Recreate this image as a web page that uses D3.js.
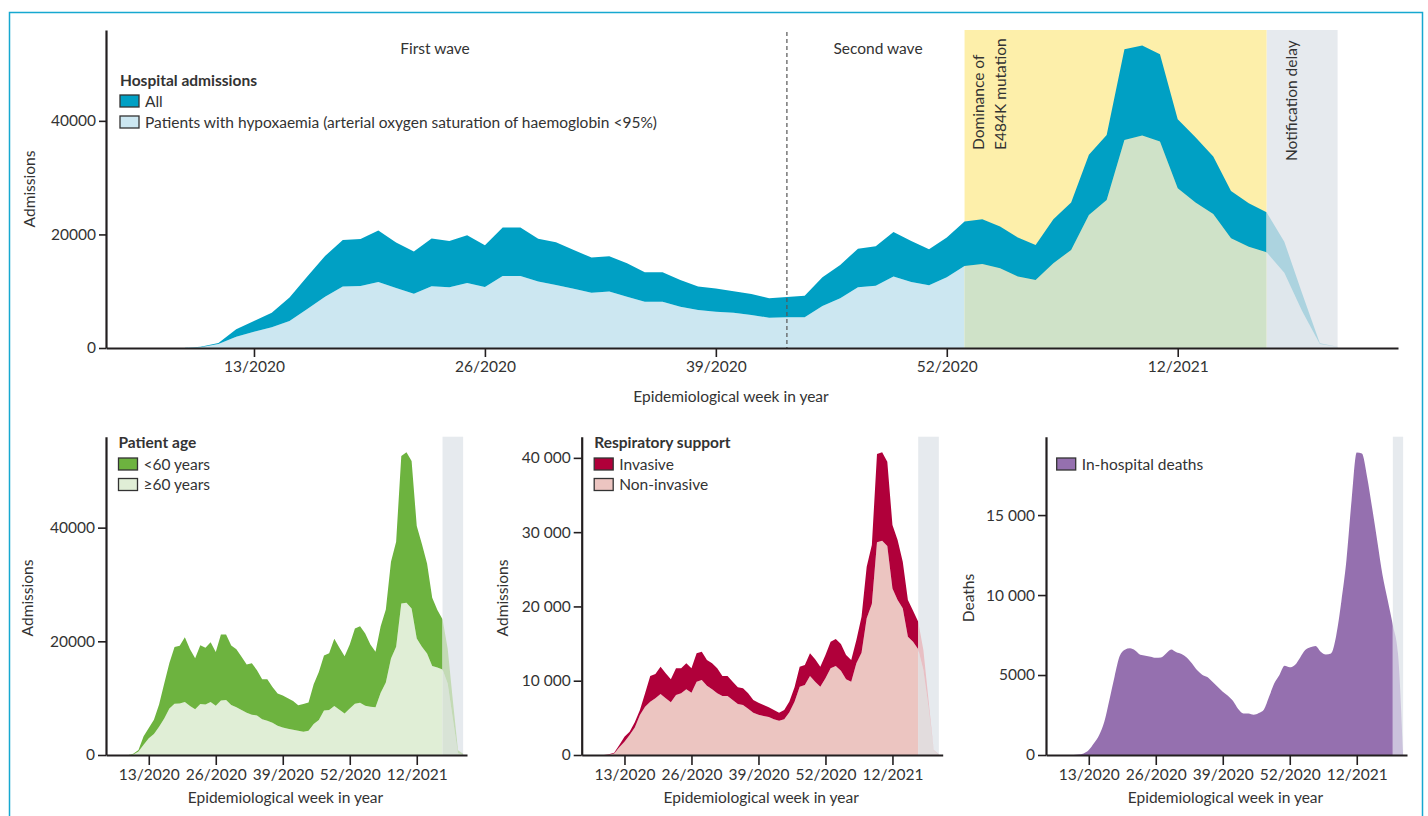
<!DOCTYPE html>
<html><head><meta charset="utf-8">
<script src="https://cdn.jsdelivr.net/npm/d3@7"></script>
<style>
body{margin:0;background:#fff}
text{font-family:Lato,"Noto Sans",sans-serif;fill:#333}
</style>
</head><body>
<svg id="c" width="1428" height="816"></svg>
<script>
// Continuous epidemiological week index (2020 has 53 weeks: index 54 = week 1/2021)
const weeks = d3.range(9, 75);
const xTickWeeks = [13, 26, 39, 52, 65];
const xTickLabels = ["13/2020", "26/2020", "39/2020", "52/2020", "12/2021"];

const admissionsAll = [0,200,900,3300,4750,6200,8900,12600,16200,19000,19200,20700,18600,17000,19300,18850,19850,18100,21200,21200,19250,18620,17270,15920,16150,14920,13330,13330,11980,10810,10460,9980,9510,8750,8990,9220,12450,14620,17500,17910,20440,18850,17390,19440,22260,22670,21380,19440,18150,22670,25610,34010,37530,52620,53270,51740,40290,37120,33710,27660,25490,23900,18730,9630,820,230];
const admissionsHypoxaemia = [0,120,700,2000,2880,3640,4760,6870,9045,10810,10920,11630,10570,9570,10870,10690,11450,10750,12690,12690,11690,11100,10450,9750,9930,9045,8165,8165,7285,6700,6400,6225,5815,5345,5405,5405,7400,8750,10690,10980,12570,11630,11040,12450,14450,14800,14040,12570,11980,14920,17270,23430,26080,36650,37410,36360,28130,25610,23610,19320,17850,16860,13270,6500,700,200];

const ageOver60 = [0,100,600,1800,2930,3690,4980,6440,8200,9020,9080,9315,8610,8030,8960,8900,9315,8670,9610,9670,8790,8380,7910,7440,7090,6970,6270,6035,5680,5155,4860,4630,4450,4275,4100,4275,5450,6150,7850,7910,8610,7970,7320,8200,9020,9200,8670,8500,8380,10960,12770,16990,19040,26650,26770,25780,20500,19040,17870,15640,15410,15060,12600,6440,290,0];
const ageUnder60 = [0,100,300,1500,1820,2510,3920,6160,8000,9980,10120,11385,9990,8970,10340,9950,10535,9430,11590,11530,10460,10240,9360,8480,9060,7950,7060,7295,6300,5655,5600,5350,5060,4475,4890,4945,7000,8470,9650,10000,11830,10880,10070,11240,13240,13470,12710,10940,9770,11710,12840,17020,18490,25970,26500,25960,19790,18080,15840,12020,10080,8840,6130,3190,530,230];

const supportNonInvasive = [0,50,200,1030,1800,2690,3700,5380,6500,7180,7630,8210,7630,7090,8075,8300,8840,8390,9870,10095,9330,8840,8300,7940,7940,7400,6865,6730,6235,5700,5430,5250,5115,4800,4620,4800,5740,7180,9200,9420,10630,9870,9200,10320,11665,11980,11350,10185,9870,12340,13775,18395,20325,28625,28850,28130,22430,20860,19740,15925,15250,14220,11440,6500,600,50];
const supportInvasive = [0,50,100,320,670,450,700,680,1800,3450,3270,3680,3360,3095,3590,3365,3500,3275,3815,3815,3460,3500,3365,2690,2690,2470,2245,2240,2065,1700,1615,1480,1300,1260,1080,1260,1460,1950,2690,2695,3055,3010,2690,3140,3585,3630,3590,3275,2920,3140,4845,6955,7945,11885,11890,11350,8530,8080,6280,4935,4180,3725,2690,900,70,50];

const deaths = [0,0,30,100,310,730,1230,2060,3440,4900,6190,6580,6670,6540,6270,6210,6150,6080,6100,6350,6600,6420,6310,6100,5730,5310,5020,4875,4580,4270,3960,3710,3375,2875,2600,2600,2520,2625,2850,3650,4480,5000,5580,5480,5625,6085,6560,6730,6810,6460,6290,6350,7440,9580,12190,15940,18920,18850,17400,15420,13330,11250,9690,8125,6350,0];

const waveSplitWeek = 43, e484kStartWeek = 53, delayStartWeek = 70, delayEndWeek = 74, deathsDelayStartWeek = 72;

const FS = 15.5;
const svg = d3.select("#c");
const AX = "#231f20", GREY = "#e6eaee";
let clipN = 0;
function clip(x0, x1, y0, y1) {
  const id = "clip" + (clipN++);
  svg.append("clipPath").attr("id", id).append("rect")
    .attr("x", x0).attr("y", y0).attr("width", x1 - x0).attr("height", y1 - y0);
  return "url(#" + id + ")";
}
function band(x, y, lo, hi, curve) {
  return d3.area().curve(curve || d3.curveLinear)
    .x((d, i) => x(weeks[i])).y0((d, i) => y(lo ? lo[i] : 0)).y1((d, i) => y(hi[i]))(weeks);
}
function spaceFmt(d) { return d >= 10000 ? d3.format(",")(d).replace(",", " ") : String(d); }

function axes(x, y, yTicks, fmt, xTickLen, yTickLen) {
  const gx = svg.append("g").attr("transform", `translate(0,${y.range()[0]})`)
    .call(d3.axisBottom(x).tickValues(xTickWeeks).tickFormat((d, i) => xTickLabels[i])
      .tickSize(xTickLen).tickSizeOuter(0).tickPadding(4));
  const gy = svg.append("g").attr("transform", `translate(${x.range()[0]},0)`)
    .call(d3.axisLeft(y).tickValues(yTicks).tickFormat(fmt).tickSize(yTickLen).tickSizeOuter(0).tickPadding(3));
  [gx, gy].forEach(g => {
    g.select(".domain").attr("stroke", AX).attr("stroke-width", 2.2);
    g.selectAll(".tick line").attr("stroke", AX).attr("stroke-width", 1.6);
    g.selectAll(".tick text").style("font-family", "Lato, sans-serif").style("font-size", FS + "px").attr("fill", "#333");
  });
}
function label(txt, x, y, opts) {
  opts = opts || {};
  const t = svg.append("text").attr("x", x).attr("y", y).text(txt)
    .style("font-size", (opts.size || FS) + "px")
    .attr("text-anchor", opts.anchor || "start");
  if (opts.bold) t.style("font-weight", "bold");
  if (opts.rotate) t.attr("x", 0).attr("y", 0).attr("transform", `translate(${x},${y}) rotate(-90)`);
  return t;
}
function legendBox(x, y, fill) {
  svg.append("rect").attr("x", x).attr("y", y).attr("width", 19).attr("height", 12)
    .attr("fill", fill).attr("stroke", "#333").attr("stroke-width", 1.3);
}

// frame
svg.append("path").attr("d", "M9.5,830 V12.5 H1422.5 V830").attr("fill", "none").attr("stroke", "#16a8d0").attr("stroke-width", 1.5);

// ===== Top chart =====
{
  const x = d3.scaleLinear([4.67, 77.4], [106, 1398]);
  const y = d3.scaleLinear([0, 56000], [348, 30]);
  const top = 30, bot = 348;
  svg.append("rect").attr("x", x(delayStartWeek)).attr("y", top).attr("width", x(delayEndWeek) - x(delayStartWeek)).attr("height", bot - top).attr("fill", GREY);
  svg.append("rect").attr("x", x(e484kStartWeek)).attr("y", top).attr("width", x(delayStartWeek) - x(e484kStartWeek)).attr("height", bot - top).attr("fill", "#fdefaa");
  const cPre = clip(0, x(e484kStartWeek), 0, 816), cYel = clip(x(e484kStartWeek), x(delayStartWeek), 0, 816),
        cDel = clip(x(delayStartWeek), 1428, 0, 816), cMain = clip(0, x(delayStartWeek), 0, 816);
  const hyp = band(x, y, null, admissionsHypoxaemia), all = band(x, y, admissionsHypoxaemia, admissionsAll);
  svg.append("path").attr("d", hyp).attr("fill", "#cce7f1").attr("clip-path", cPre);
  svg.append("path").attr("d", hyp).attr("fill", "#cfe2c8").attr("clip-path", cYel);
  svg.append("path").attr("d", hyp).attr("fill", "#dfe7ec").attr("clip-path", cDel);
  svg.append("path").attr("d", all).attr("fill", "#00a0c4").attr("clip-path", cMain);
  svg.append("path").attr("d", all).attr("fill", "#acd3df").attr("clip-path", cDel);
  svg.append("line").attr("x1", x(waveSplitWeek)).attr("x2", x(waveSplitWeek)).attr("y1", 32).attr("y2", bot)
    .attr("stroke", "#555").attr("stroke-width", 1.2).attr("stroke-dasharray", "4,3");
  axes(x, y, [0, 20000, 40000], d3.format("d"), 9, 7);
  label("First wave", 435, 54, {anchor: "middle"});
  label("Second wave", 878, 54, {anchor: "middle"});
  label("Dominance of", 984, 150, {rotate: true});
  label("E484K mutation", 1006, 150, {rotate: true});
  label("Notification delay", 1297, 161, {rotate: true});
  label("Hospital admissions", 120, 86, {bold: true});
  legendBox(120, 95, "#00a0c4"); label("All", 145, 107);
  legendBox(120, 116, "#cce7f1"); label("Patients with hypoxaemia (arterial oxygen saturation of haemoglobin <95%)", 145, 128);
  label("Admissions", 35, 189, {rotate: true, anchor: "middle"});
  label("Epidemiological week in year", 731, 402, {anchor: "middle"});
}

// ===== Bottom panels =====
function panel(left, yMax, yTicks, fmt, delayStart, layers, legendTitle, legendItems, yLabel, yLabelX) {
  const right = left + 361;
  const x = d3.scaleLinear([4.7, 74.75], [left, right]);
  const y = d3.scaleLinear([0, yMax], [755, 436.7]);
  svg.append("rect").attr("x", x(delayStart)).attr("y", 436.7).attr("width", x(delayEndWeek) - x(delayStart)).attr("height", 755 - 436.7).attr("fill", GREY);
  const cMain = clip(0, x(delayStart), 0, 816), cDel = clip(x(delayStart), 1428, 0, 816);
  layers.forEach(L => {
    const d = band(x, y, L.lo, L.hi, L.curve);
    svg.append("path").attr("d", d).attr("fill", L.fill).attr("clip-path", cMain);
    svg.append("path").attr("d", d).attr("fill", L.delayFill).attr("clip-path", cDel);
  });
  axes(x, y, yTicks, fmt, 10, 8);
  const bx = legendTitle ? left + 12.5 : left + 10.7;
  if (legendTitle) label(legendTitle, left + 12.5, 448, {bold: true});
  legendItems.forEach((it, i) => {
    legendBox(bx, 458 + i * 20.5, it.fill);
    label(it.text, bx + 25, 469.5 + i * 20.5);
  });
  label(yLabel, yLabelX, 598, {rotate: true, anchor: "middle"});
  label("Epidemiological week in year", (left + right) / 2 - 1, 803, {anchor: "middle"});
}

// cumulative tops of the stacked bands
const ageTotal = ageOver60.map((v, i) => v + ageUnder60[i]);
const supportTotal = supportNonInvasive.map((v, i) => v + supportInvasive[i]);

panel(106, 56000, [0, 20000, 40000], d3.format("d"), delayStartWeek, [
  {lo: null, hi: ageOver60, fill: "#e0eed6", delayFill: "#d8e3d6"},
  {lo: ageOver60, hi: ageTotal, fill: "#6db33f", delayFill: "#c3dab5"}
], "Patient age", [{text: "<60 years", fill: "#6db33f"}, {text: "\u226560 years", fill: "#e0eed6"}], "Admissions", 33);

panel(581.7, 42850, [0, 10000, 20000, 30000, 40000], spaceFmt, delayStartWeek, [
  {lo: null, hi: supportNonInvasive, fill: "#ecc5c1", delayFill: "#e2dcdd"},
  {lo: supportNonInvasive, hi: supportTotal, fill: "#b0003a", delayFill: "#e8bfc4"}
], "Respiratory support", [{text: "Invasive", fill: "#b0003a"}, {text: "Non-invasive", fill: "#ecc5c1"}], "Admissions", 508);

panel(1046, 19900, [0, 5000, 10000, 15000], spaceFmt, deathsDelayStartWeek, [
  {lo: null, hi: deaths, fill: "#9570af", delayFill: "#cbc2dc", curve: d3.curveMonotoneX}
], null, [{text: "In-hospital deaths", fill: "#9570af"}], "Deaths", 974);
</script>
</body></html>
